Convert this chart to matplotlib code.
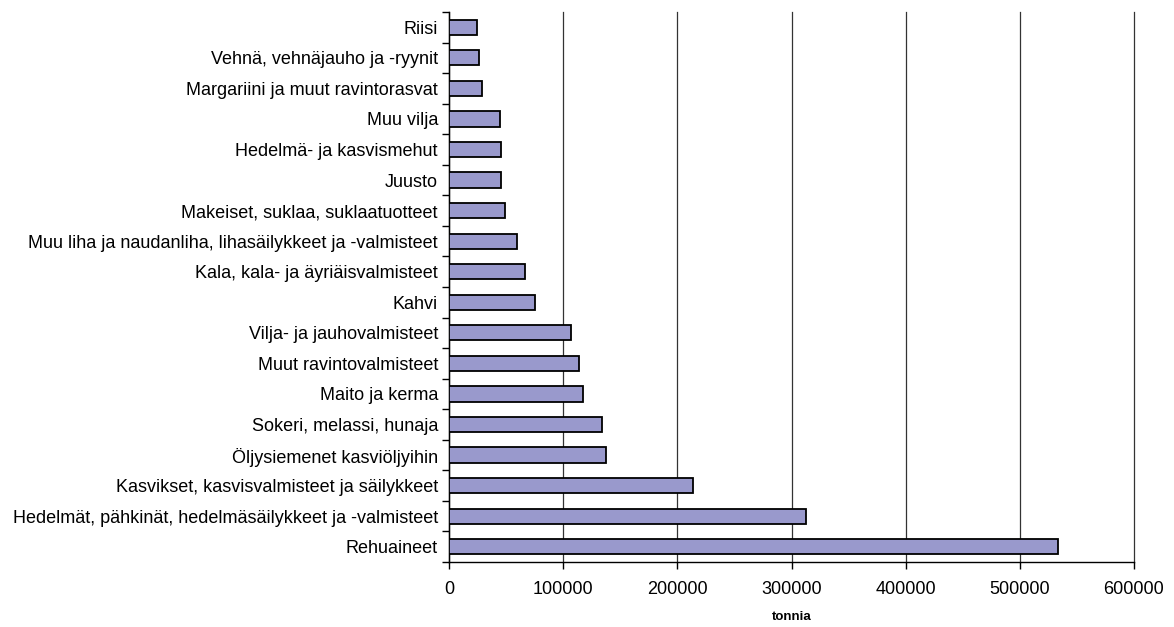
import numpy as np
import matplotlib
matplotlib.use("Agg")
import matplotlib.pyplot as plt

plt.rcParams['font.family'] = ['Liberation Sans', 'DejaVu Sans']

# tuoteryhmät (alhaalta ylös)
categories = [
    "Rehuaineet",
    "Hedelmät, pähkinät, hedelmäsäilykkeet ja -valmisteet",
    "Kasvikset, kasvisvalmisteet ja säilykkeet",
    "Öljysiemenet kasviöljyihin",
    "Sokeri, melassi, hunaja",
    "Maito ja kerma",
    "Muut ravintovalmisteet",
    "Vilja- ja jauhovalmisteet",
    "Kahvi",
    "Kala, kala- ja äyriäisvalmisteet",
    "Muu liha ja naudanliha, lihasäilykkeet ja -valmisteet",
    "Makeiset, suklaa, suklaatuotteet",
    "Juusto",
    "Hedelmä- ja kasvismehut",
    "Muu vilja",
    "Margariini ja muut ravintorasvat",
    "Vehnä, vehnäjauho ja -ryynit",
    "Riisi",
]
tonnia = [533500, 312800, 213500, 137700, 134200, 117000, 114000, 106700,
          75200, 67000, 59600, 48900, 45300, 45300, 44500, 29300, 26300, 24900]
xticks = [0, 100000, 200000, 300000, 400000, 500000, 600000]

fig = plt.figure(figsize=(11.74, 6.27), dpi=100)
ax = fig.add_axes([449 / 1174, 1 - 562 / 627, (1134 - 449) / 1174, (562 - 12) / 627])

y = np.arange(len(categories))
ax.barh(y, tonnia, height=0.5, color='#9999cc', edgecolor='black', linewidth=1.3, zorder=3)

ax.set_xlim(0, 600000)
ax.set_ylim(-0.5, len(categories) - 0.5)
ax.set_xticks(xticks)
ax.set_xticklabels([str(v) for v in xticks], fontsize=13)
ax.set_yticks(y)
ax.set_yticklabels(categories, fontsize=13)
ax.set_yticks(np.arange(len(categories) + 1) - 0.5, minor=True)
ax.tick_params(axis='y', which='major', length=0, pad=8)
ax.tick_params(axis='y', which='minor', length=5, direction='out', width=1)
ax.tick_params(axis='x', length=5, direction='out', width=1, pad=9)

ax.grid(axis='x', color='#333333', linewidth=0.9, zorder=0)
for g in ax.get_xgridlines():
    g.set_clip_on(False)
for s in ['top', 'right']:
    ax.spines[s].set_visible(False)
for s in ['left', 'bottom']:
    ax.spines[s].set_linewidth(1)

ax.set_xlabel("tonnia", fontsize=9.5, fontweight='bold', labelpad=9)

fig.savefig("out.png", dpi=100)
